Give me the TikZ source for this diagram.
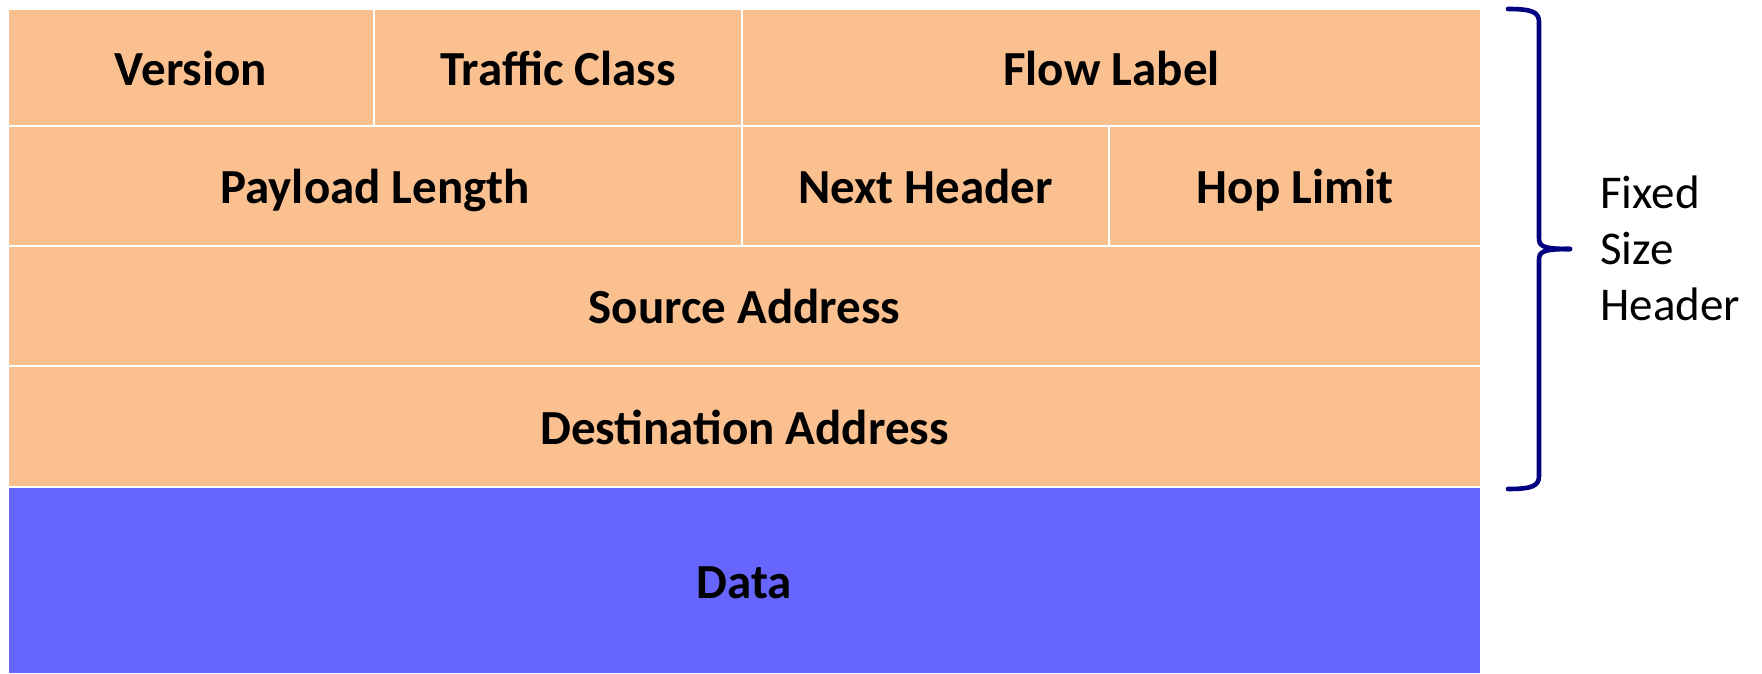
\documentclass[tikz,border=0pt]{standalone}
\usepackage{fontspec}
\setmainfont{Carlito}
\definecolor{peach}{HTML}{FAC090}
\definecolor{datablue}{HTML}{6666FF}
\definecolor{bracenavy}{HTML}{000080}
\begin{document}
\begin{tikzpicture}[x=1pt,y=1pt,
  cell/.style={draw=white, line width=1pt, fill=peach, inner sep=0pt, outer sep=0pt,
    text height=20pt, text depth=2.6pt,
    font=\fontsize{24.5}{29}\selectfont\bfseries, text=black},
  datacell/.style={cell, fill=datablue},
  bracepath/.style={draw=bracenavy, line width=2.3pt, line cap=round, line join=round},
  sidelabel/.style={anchor=west, align=left, inner sep=0pt, font=\fontsize{23.5}{28}\selectfont}]
\useasboundingbox (0,0) rectangle (881,337);
% row 1
\node[cell, minimum width=183pt, minimum height=58.75pt] (ver) at (95.5,303.125) {Version};
\node[cell, minimum width=184pt, minimum height=58.75pt] (tc) at (279,303.125) {Traffic Class};
\node[cell, minimum width=369.5pt, minimum height=58.75pt] (fl) at (555.75,303.125) {Flow Label};
% row 2
\node[cell, minimum width=367pt, minimum height=60pt] (pl) at (187.5,243.75) {Payload Length};
\node[cell, minimum width=183.5pt, minimum height=60pt] (nh) at (462.75,243.75) {Next Header};
\node[cell, minimum width=186pt, minimum height=60pt] (hl) at (647.5,243.75) {Hop Limit};
% row 3
\node[cell, minimum width=736.5pt, minimum height=60pt] (src) at (372.25,183.75) {Source Address};
% row 4
\node[cell, minimum width=736.5pt, minimum height=60.5pt] (dst) at (372.25,123.5) {Destination Address};
% data
\node[datacell, minimum width=736.5pt, minimum height=93.25pt] (data) at (372.25,46.625) {Data};
% brace
\coordinate (btop) at (754,332.5);
\coordinate (bbot) at (754,92.5);
\coordinate (btip) at (785,212.5);
\draw[bracepath] (btop) .. controls (766,332.5) and (769.5,331) .. (769.5,326)
  -- (769.5,218) .. controls (769.5,214) and (771,212.5) .. (btip);
\draw[bracepath] (btip) .. controls (771,212.5) and (769.5,211) .. (769.5,207)
  -- (769.5,99) .. controls (769.5,94) and (766,92.5) .. (bbot);
\node[sidelabel] (fsh) at (800,213) {Fixed\\Size\\Header};
\end{tikzpicture}
\end{document}
